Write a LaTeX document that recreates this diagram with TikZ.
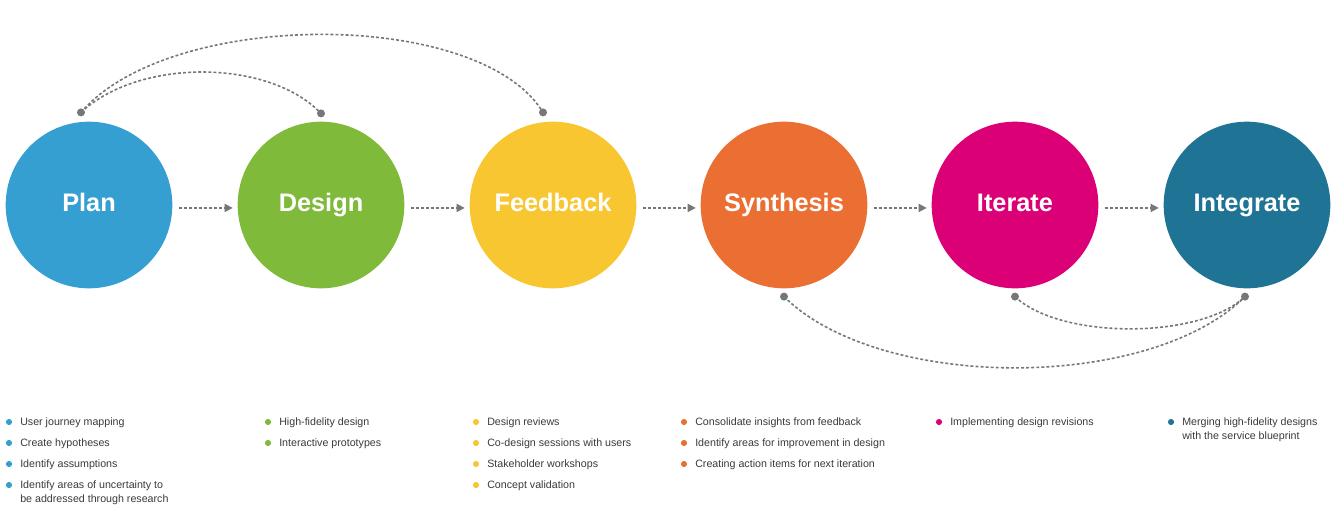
\documentclass[tikz,border=0pt]{standalone}
\usepackage{fontspec}
\setmainfont{Liberation Sans}
\usetikzlibrary{arrows.meta, positioning}
\definecolor{PlanBlue}{HTML}{369FD1}
\definecolor{DesignGreen}{HTML}{80BA3A}
\definecolor{FeedbackYellow}{HTML}{F8C630}
\definecolor{SynthOrange}{HTML}{EB6E32}
\definecolor{IterMagenta}{HTML}{DC0077}
\definecolor{IntegrTeal}{HTML}{1F7496}
\definecolor{LinkGray}{HTML}{777777}
\definecolor{TextGray}{HTML}{3A3A3A}

\begin{document}
\begin{tikzpicture}[
    x=0.75pt, y=-0.75pt,
    phase/.style={circle, minimum size=125pt, inner sep=0pt, text=white,
                  text height=14pt, text depth=4pt,
                  font=\fontsize{19}{22}\selectfont\bfseries},
    flow/.style={-{Triangle[length=6pt, width=6pt]}, line width=1.2pt, LinkGray,
                 dash pattern=on 2.2pt off 1.6pt, shorten <=4.5pt, shorten >=3.5pt},
    backlink/.style={line width=1.2pt, LinkGray, dash pattern=on 2.2pt off 1.6pt},
    bullettext/.style={anchor=base west, inner sep=0pt, text=TextGray,
                       font=\fontsize{8}{10.5}\selectfont},
]
\useasboundingbox (0,0) rectangle (1340,518);

% --- fases del proceso ---
\node[phase, fill=PlanBlue]       (plan)  at (89,205)   {Plan};
\node[phase, fill=DesignGreen]    (design) at (321,205) {Design};
\node[phase, fill=FeedbackYellow] (feedback) at (553,205) {Feedback};
\node[phase, fill=SynthOrange]    (synth) at (784,205)  {Synthesis};
\node[phase, fill=IterMagenta]    (iter)  at (1015,205) {Iterate};
\node[phase, fill=IntegrTeal]     (integr) at (1247,205) {Integrate};

\draw[flow] ([yshift=-2.2pt]plan.east) -- ([yshift=-2.2pt]design.west);
\draw[flow] ([yshift=-2.2pt]design.east) -- ([yshift=-2.2pt]feedback.west);
\draw[flow] ([yshift=-2.2pt]feedback.east) -- ([yshift=-2.2pt]synth.west);
\draw[flow] ([yshift=-2.2pt]synth.east) -- ([yshift=-2.2pt]iter.west);
\draw[flow] ([yshift=-2.2pt]iter.east) -- ([yshift=-2.2pt]integr.west);

% --- extremos de los arcos ---
\coordinate (plan-top)     at ([shift={(-8,-9)}]plan.north);
\coordinate (design-top)   at ([shift={(0,-8)}]design.north);
\coordinate (feedback-top) at ([shift={(-10,-9)}]feedback.north);
\coordinate (synth-bot)    at ([shift={(0,8)}]synth.south);
\coordinate (iter-bot)     at ([shift={(0,8)}]iter.south);
\coordinate (integr-bot)   at ([shift={(-2,8)}]integr.south);

\draw[backlink] (plan-top) .. controls +(59,-55) and +(-51,-54) .. (design-top);
\draw[backlink] (plan-top) .. controls +(89,-104) and +(-63,-104) .. (feedback-top);
\draw[backlink] (iter-bot) .. controls +(45,43) and +(-45,43) .. (integr-bot);
\draw[backlink] (synth-bot) .. controls +(96,95) and +(-95,95) .. (integr-bot);

\foreach \p in {plan-top, design-top, feedback-top, synth-bot, iter-bot, integr-bot}
    \fill[LinkGray] (\p) circle (3pt);

% --- listas de actividades ---
\foreach \col/\clr/\x/\items in {
    plan/PlanBlue/20/{User journey mapping, Create hypotheses, Identify assumptions,
        {Identify areas of uncertainty to\\be addressed through research}},
    design/DesignGreen/279/{High-fidelity design, Interactive prototypes},
    feedback/FeedbackYellow/487/{Design reviews, Co-design sessions with users,
        Stakeholder workshops, Concept validation},
    synth/SynthOrange/695/{Consolidate insights from feedback,
        Identify areas for improvement in design, Creating action items for next iteration},
    iter/IterMagenta/950/{Implementing design revisions},
    integr/IntegrTeal/1182/{{Merging high-fidelity designs\\with the service blueprint}}%
}{
    \foreach \txt [count=\i] in \items {
        \node[bullettext] (\col-\i) at (\x, 404+21*\i)
            {\begin{tabular}[t]{@{}l@{}}\txt\end{tabular}};
        \fill[\clr] ([shift={(-11,-3)}]\col-\i.base west) circle (2.3pt);
    }
}

\end{tikzpicture}
\end{document}
